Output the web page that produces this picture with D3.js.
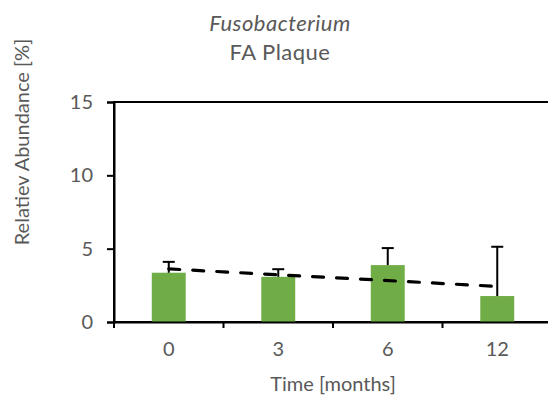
<!DOCTYPE html>
<html><head><meta charset="utf-8">
<script src="https://cdn.jsdelivr.net/npm/d3@7"></script>
<style>body{margin:0;background:#fff}svg{display:block}</style>
</head><body>
<script>
const categories = ["0", "3", "6", "12"];
const values = [3.36, 3.08, 3.88, 1.77];
const errors = [0.74, 0.52, 1.16, 3.36];
const yTicks = [0, 5, 10, 15];

const W = 548, H = 400;
const m = {left: 114, right: -4, top: 102, bottom: 78};
const svg = d3.select("body").append("svg").attr("width", W).attr("height", H);
const font = "Lato, 'Open Sans', sans-serif";
const grey = "#595959";

const x = d3.scaleBand().domain(categories).range([m.left, W - m.right]).paddingInner(0.69).paddingOuter(0.345);
const xb = d3.scaleBand().domain(categories).range([m.left, W - m.right]);
const y = d3.scaleLinear().domain([0, 15]).range([H - m.bottom, m.top]);

// frame
svg.append("rect").attr("x", m.left).attr("y", m.top)
  .attr("width", W - m.right - m.left).attr("height", H - m.bottom - m.top)
  .attr("fill", "none").attr("stroke", "#000").attr("stroke-width", 2);

// bars
svg.selectAll(".bar").data(values).join("rect")
  .attr("x", (d, i) => x(categories[i])).attr("width", x.bandwidth())
  .attr("y", d => y(d)).attr("height", d => y(0) - y(d))
  .attr("fill", "#70AD47");

// error bars
const eg = svg.append("g").attr("stroke", "#000").attr("stroke-width", 2);
values.forEach((v, i) => {
  const cx = xb(categories[i]) + xb.bandwidth() / 2;
  eg.append("line").attr("x1", cx).attr("x2", cx).attr("y1", y(v)).attr("y2", y(v + errors[i]));
  eg.append("line").attr("x1", cx - 6).attr("x2", cx + 6).attr("y1", y(v + errors[i])).attr("y2", y(v + errors[i]));
});

// linear trend
const n = values.length, xs = values.map((d, i) => i + 1);
const mx = d3.mean(xs), my = d3.mean(values);
const slope = d3.sum(xs.map((xx, i) => (xx - mx) * (values[i] - my))) / d3.sum(xs.map(xx => (xx - mx) ** 2));
const icpt = my - slope * mx;
const cxs = categories.map(c => xb(c) + xb.bandwidth() / 2);
svg.append("line")
  .attr("x1", cxs[0]).attr("y1", y(icpt + slope * 1))
  .attr("x2", cxs[n - 1]).attr("y2", y(icpt + slope * n))
  .attr("stroke", "#000").attr("stroke-width", 3.2).attr("stroke-dasharray", "11,13")
  .attr("stroke-linecap", "round");

// axes
const yAxis = svg.append("g").attr("transform", `translate(${m.left},0)`)
  .call(d3.axisLeft(y).tickValues(yTicks).tickSize(7).tickPadding(14));
const xAxis = svg.append("g").attr("transform", `translate(0,${H - m.bottom})`)
  .call(d3.axisBottom(xb).tickSize(0).tickPadding(20));
[yAxis, xAxis].forEach(a => {
  a.select(".domain").attr("stroke", "#000").attr("stroke-width", 2);
  a.selectAll(".tick line").attr("stroke", "#000").attr("stroke-width", 2);
  a.selectAll("text").attr("fill", grey).style("font-family", font).style("font-size", "20px");
});
// x ticks at category boundaries
svg.append("g").selectAll("line").data(categories.concat(["end"])).join("line")
  .attr("x1", (d, i) => m.left + i * xb.step()).attr("x2", (d, i) => m.left + i * xb.step())
  .attr("y1", H - m.bottom).attr("y2", H - m.bottom + 6)
  .attr("stroke", "#000").attr("stroke-width", 2);

// titles
svg.append("text").attr("x", 280).attr("y", 31).attr("text-anchor", "middle")
  .attr("fill", grey).style("font-family", font).style("font-size", "22px").style("font-style", "italic")
  .style("letter-spacing", "0.5px")
  .text("Fusobacterium");
svg.append("text").attr("x", 280).attr("y", 60).attr("text-anchor", "middle")
  .attr("fill", grey).style("font-family", font).style("font-size", "22px")
  .style("letter-spacing", "0.5px")
  .text("FA Plaque");
svg.append("text").attr("x", 333).attr("y", 391).attr("text-anchor", "middle")
  .attr("fill", grey).style("font-family", font).style("font-size", "20px")
  .text("Time [months]");
svg.append("text").attr("transform", "translate(29,142) rotate(-90)").attr("text-anchor", "middle")
  .attr("fill", grey).style("font-family", font).style("font-size", "20px")
  .text("Relatiev Abundance [%]");
</script>
</body></html>
